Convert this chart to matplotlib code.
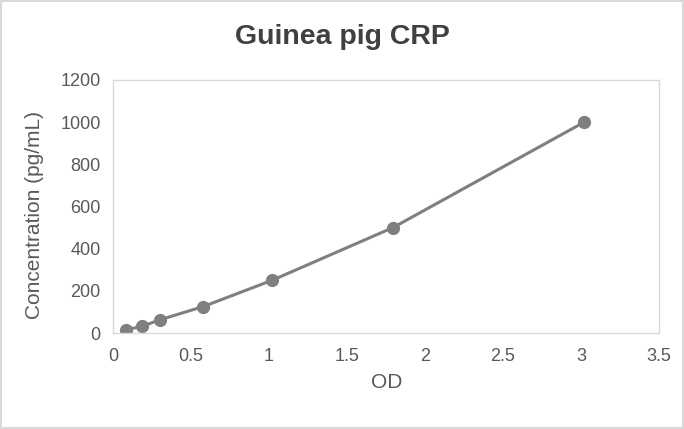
import matplotlib.pyplot as plt
from matplotlib.patches import Rectangle

plt.rcParams['font.family'] = ['Liberation Sans', 'DejaVu Sans']

od = [0.083, 0.186, 0.30, 0.577, 1.02, 1.795, 3.02]
conc = [15.6, 31.25, 62.5, 125, 250, 500, 1000]

text_col = '#595959'
line_col = '#7f7f7f'
frame_col = '#d9d9d9'

fig = plt.figure(figsize=(6.84, 4.29), dpi=100)
ax = fig.add_axes([113 / 684, 1 - 333 / 429, 546 / 684, 253 / 429])

ax.plot(od, conc, color=line_col, lw=2.2, marker='o', ms=8.5,
        mfc=line_col, mec=line_col, solid_capstyle='round')

ax.set_xlim(0, 3.5)
ax.set_ylim(0, 1200)
ax.set_xticks([0, 0.5, 1, 1.5, 2, 2.5, 3, 3.5])
ax.set_xticklabels(['0', '0.5', '1', '1.5', '2', '2.5', '3', '3.5'])
ax.set_yticks(range(0, 1201, 200))
ax.tick_params(length=0, labelsize=13, colors=text_col)
ax.tick_params(axis='x', pad=11)
ax.tick_params(axis='y', pad=9)
for s in ax.spines.values():
    s.set_color(frame_col)
    s.set_linewidth(1)

# axis titles placed like the reference
fig.text(387 / 684, 1 - 383 / 429, 'OD', ha='center', va='center',
         fontsize=15, color=text_col)
fig.text(35 / 684, 1 - 215 / 429, 'Concentration (pg/mL)', ha='center',
         va='center', rotation=90, fontsize=15, color=text_col)
fig.text(342 / 684, 1 - 37 / 429, 'Guinea pig CRP', ha='center', va='center',
         fontsize=20.5, fontweight='bold', color='#404040')

fig.patches.append(Rectangle((1 / 684, 1 / 429), 682 / 684, 427 / 429,
                             transform=fig.transFigure, fill=False,
                             edgecolor=frame_col, lw=1.5))

fig.savefig('out.png', dpi=100)
